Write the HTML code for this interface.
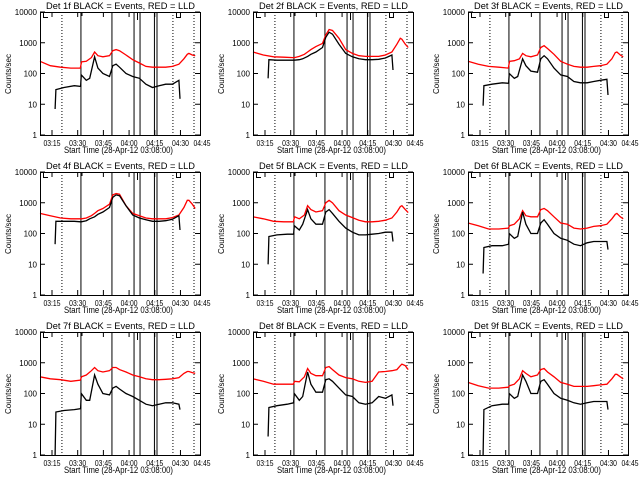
<!DOCTYPE html>
<html><head><meta charset="utf-8"><style>
html,body{margin:0;padding:0;background:#fff;width:640px;height:480px;overflow:hidden}
svg{display:block}
text{font-family:"Liberation Sans",sans-serif;fill:#000}
</style></head><body>
<svg id="chart" width="640" height="480" viewBox="0 0 640 480" xmlns="http://www.w3.org/2000/svg"></svg>
<script>
const detLabels = ["1f","2f","3f","4f","5f","6f","7f","8f","9f"];
const yTicks = [1,10,100,1000,10000];
const yTickLabels = ["1","10","100","1000","10000"];
const xTicks = [15,30,45,60,75,90,105];
const xTickLabels = ["03:15","03:30","03:45","04:00","04:15","04:30","04:45"];
const redT = [8,14,20,26,31.5,32.3,35,38,39.9,41.8,44.7,48.6,50.5,52.4,54.4,58.2,62.1,66,69.8,73.7,77.5,81.4,85.3,89.1,92,94,94.9,96.9,98.6];
const blackT = [16.8,17.3,22,28,31.7,32.1,35,37,39.9,41.8,44.7,48.6,50.5,52.4,54.4,58.2,62.1,66,69.8,73.7,77.5,81.4,85.3,89.1,89.7];
const red1 = [250,180,160,150,150,240,250,330,500,380,350,380,550,600,550,400,280,220,170,160,160,160,170,200,300,420,450,400,380];
const black1 = [7,30,35,40,38,90,60,70,350,150,100,80,180,200,160,100,80,70,45,35,40,45,45,60,15];
const red2 = [500,400,350,340,330,330,360,420,500,600,750,950,1800,2700,2500,1400,600,450,380,360,360,360,400,500,900,1400,1300,900,700];
const black2 = [70,280,270,270,270,270,280,300,360,420,500,700,1500,2200,1900,900,450,350,300,280,280,290,320,400,130];
const red3 = [250,200,170,160,150,250,260,300,450,380,350,400,700,800,650,420,250,200,170,160,160,170,180,200,300,480,500,400,350];
const black3 = [9,40,45,50,48,100,70,80,300,180,120,110,300,380,300,150,90,80,55,50,50,55,60,65,20];
const red4 = [450,380,320,300,300,300,320,380,450,550,650,900,1800,2000,1900,800,450,380,320,300,300,300,330,400,700,1200,1200,900,650];
const black4 = [45,250,250,250,240,240,260,300,350,420,500,700,1500,1800,1700,800,400,320,280,250,250,260,290,380,130];
const red5 = [350,300,250,240,240,350,300,400,800,600,500,550,1000,1200,1000,550,400,330,270,240,240,250,270,320,500,750,800,600,480];
const black5 = [10,80,90,95,95,180,130,200,600,300,200,200,500,600,450,250,150,110,90,90,95,100,110,110,55];
const red6 = [220,180,140,140,150,180,200,300,550,380,350,350,600,650,550,350,220,200,150,140,150,170,180,200,300,420,450,350,300];
const black6 = [5,35,40,40,45,100,70,80,500,200,100,100,220,280,200,100,70,60,45,40,50,55,55,55,30];
const red7 = [350,300,280,250,270,350,400,550,700,550,500,550,700,700,600,500,400,350,300,280,280,290,300,330,450,520,520,480,450];
const black7 = [1,25,28,30,32,100,60,60,400,200,100,90,150,170,140,100,80,60,45,40,45,50,50,45,30];
const red8 = [300,250,200,200,200,250,240,350,650,450,380,380,700,750,600,400,330,300,250,230,250,500,520,550,600,800,900,800,600];
const black8 = [4,35,40,45,50,100,60,80,500,200,110,110,280,300,250,150,90,80,50,45,50,80,70,90,40];
const red9 = [230,180,150,150,160,180,200,300,550,450,350,400,600,650,500,350,230,200,170,170,170,180,190,200,300,420,420,350,300];
const black9 = [1,30,40,45,45,100,70,80,400,250,100,100,250,280,200,100,70,60,50,45,50,55,55,55,30];
const redSeries = [red1,red2,red3,red4,red5,red6,red7,red8,red9];
const blackSeries = [black1,black2,black3,black4,black5,black6,black7,black8,black9];
const solidLines = [31.9,50,62.9,66.4,74.8,76.3];
const dottedLines = [20.8,85.6,97.9];

const NS="http://www.w3.org/2000/svg";
const svg=document.getElementById('chart');
function mk(tag,attrs,parent){const e=document.createElementNS(NS,tag);for(const k in attrs)e.setAttribute(k,attrs[k]);parent.appendChild(e);return e;}
const colX=[0,213,428], rowY=[0,160,320];
const BX0=40,BX1=200,BY0=12,BY1=135,T0=8,PPM=1.713;
for(let p=0;p<9;p++){
  const ox=colX[p%3], oy=rowY[Math.floor(p/3)];
  const g=mk('g',{transform:`translate(${ox},${oy})`},svg);
  
  
  const xs=t=>BX0+(t-T0)*PPM;
  const ys=v=>BY1-Math.log10(Math.max(v,1))*(BY1-BY0)/4;
  const ti=mk('text',{x:46,y:9,'font-size':9,textLength:149,lengthAdjust:'spacingAndGlyphs'},g);
  ti.textContent='Det '+detLabels[p]+' BLACK = Events, RED = LLD';
  
  
  const yt=mk('text',{x:0,y:0,'font-size':8,'text-anchor':'middle',transform:'translate(11,74) rotate(-90)'},g);
  yt.textContent='Counts/sec';
  
  
  const xt=mk('text',{x:64,y:153,'font-size':9,textLength:109,lengthAdjust:'spacingAndGlyphs'},g);
  xt.textContent='Start Time (28-Apr-12 03:08:00)';
  
  
  yTicks.forEach((v,i)=>{
    const y=ys(v);
    mk('line',{x1:BX0,x2:BX0+5,y1:y,y2:y,stroke:'#000','stroke-width':1},g);
    mk('line',{x1:BX1-5,x2:BX1,y1:y,y2:y,stroke:'#000','stroke-width':1},g);
    const l=mk('text',{x:37,y:y+3,'font-size':8,'text-anchor':'end'},g);
    l.textContent=yTickLabels[i];
    
    
  });
  xTicks.forEach((t,i)=>{
    const x=xs(t);
    if(x<=BX1+0.5){
      mk('line',{x1:x,x2:x,y1:BY1,y2:BY1-5,stroke:'#000','stroke-width':1},g);
      mk('line',{x1:x,x2:x,y1:BY0,y2:BY0+5,stroke:'#000','stroke-width':1},g);
    }
    const cx=Math.min(x,202);
    const l=mk('text',{x:cx-8.5,y:146,'font-size':8,textLength:17,lengthAdjust:'spacingAndGlyphs'},g);
    l.textContent=xTickLabels[i];
    
    
  });
  dottedLines.forEach(t=>{
    const l=mk('line',{x1:xs(t),x2:xs(t),y1:BY0,y2:BY1,stroke:'#000','stroke-width':1,'stroke-dasharray':'1,2'},g);
    
    
  });
  solidLines.forEach(t=>{
    const l=mk('line',{x1:xs(t),x2:xs(t),y1:BY0,y2:BY1,stroke:'#000','stroke-width':1},g);
    
    
  });
  mk('path',{d:'M43.5,12 V17.5 H48 M82,12 V16 M137.5,12 V20 M176.5,12 V17.5 H181',stroke:'#000',fill:'none','stroke-width':1},g);
  const rp=mk('polyline',{points:redT.map((t,i)=>xs(t).toFixed(1)+','+ys(redSeries[p][i]).toFixed(1)).join(' '),fill:'none',stroke:'#ff0000','stroke-width':1.3},g);
  
  
  const bp=mk('polyline',{points:blackT.map((t,i)=>xs(t).toFixed(1)+','+ys(blackSeries[p][i]).toFixed(1)).join(' '),fill:'none',stroke:'#000','stroke-width':1.3},g);
  
  
  const fr=mk('rect',{x:BX0+0.5,y:BY0+0.5,width:BX1-BX0,height:BY1-BY0,fill:'none',stroke:'#000','stroke-width':1},g);
  
  
}
</script>
</body></html>
